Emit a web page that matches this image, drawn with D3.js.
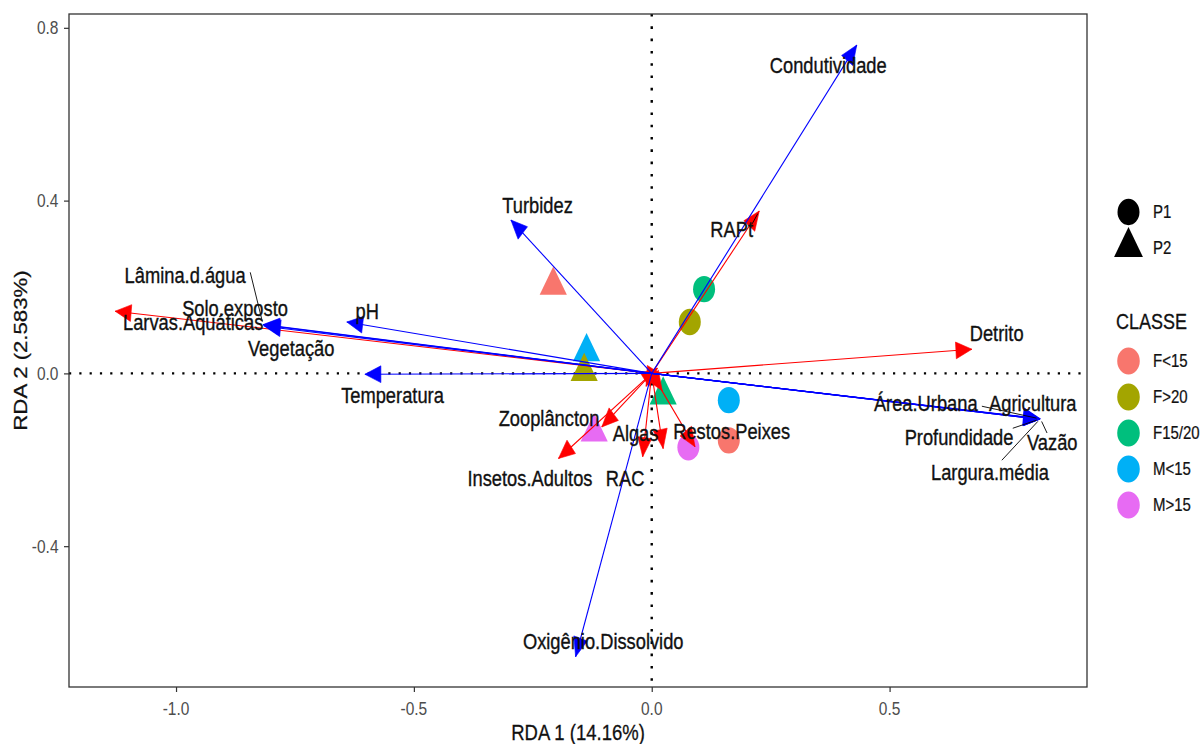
<!DOCTYPE html>
<html>
<head>
<meta charset="utf-8">
<script src="https://cdn.jsdelivr.net/npm/d3@7"></script>
<style>
  html, body { margin: 0; padding: 0; background: #fff; }
  svg { display: block; font-family: "Liberation Sans", Arial, sans-serif; }
</style>
</head>
<body>
<svg id="chart" width="1201" height="744"></svg>
<script>
// ---- data ---------------------------------------------------------------
const xLimits = [-1.225, 0.915];
const yLimits = [-0.726, 0.832];
const xTicks = [-1.0, -0.5, 0.0, 0.5];
const yTicks = [-0.4, 0.0, 0.4, 0.8];
const xTitle = "RDA 1 (14.16%)";
const yTitle = "RDA 2 (2.583%)";

// site scores: class, period, RDA1, RDA2
const siteClass  = ["F<15", "M<15", "F>20", "F15/20", "M>15", "F15/20", "F>20", "M<15", "F<15", "M>15"];
const sitePeriod = ["P2", "P2", "P2", "P2", "P2", "P1", "P1", "P1", "P1", "P1"];
const siteRDA1   = [-0.207, -0.137, -0.142, 0.024, -0.121, 0.110, 0.080, 0.162, 0.162, 0.077];
const siteRDA2   = [0.204, 0.050, 0.004, -0.050, -0.136, 0.195, 0.119, -0.062, -0.155, -0.171];

// environmental variables (blue arrows)
const envNames = ["Condutividade", "Turbidez", "pH", "Lâmina.d.água", "Solo.exposto", "Vegetação",
                  "Temperatura", "Oxigênio.Dissolvido", "Área.Urbana", "Agricultura",
                  "Profundidade", "Vazão", "Largura.média"];
const envRDA1 = [0.431, -0.296, -0.641, -0.817, -0.816, -0.814, -0.603, -0.160, 0.815, 0.816, 0.815, 0.817, 0.816];
const envRDA2 = [0.760, 0.355, 0.119, 0.113, 0.112, 0.109, -0.002, -0.656, -0.105, -0.106, -0.106, -0.105, -0.106];
const envLabelX = [0.371, -0.240, -0.598, -0.981, -0.876, -0.758, -0.545, -0.102, 0.576, 0.801, 0.646, 0.842, 0.711];
const envLabelY = [0.714, 0.390, 0.144, 0.228, 0.151, 0.059, -0.050, -0.620, -0.070, -0.070, -0.147, -0.159, -0.230];
// leader line starts for repelled labels (null = no leader)
const envLeaderX = [null, null, null, -0.844, null, null, null, null, 0.694, null, 0.759, 0.831, 0.736];
const envLeaderY = [null, null, null, 0.234, null, null, null, null, -0.076, null, -0.127, -0.138, -0.201];

// response variables (red arrows)
const spNames = ["Larvas.Aquáticas", "Detrito", "RAPt", "Zooplâncton", "Insetos.Adultos", "RAC", "Algas", "Restos.Peixes", null, null, null];
const spRDA1 = [-1.128, 0.673, 0.226, -0.105, -0.196, -0.019, 0.024, 0.091, 0.022, -0.012, 0.012];
const spRDA2 = [0.144, 0.056, 0.376, -0.124, -0.197, -0.193, -0.174, -0.170, -0.040, -0.030, 0.012];
const spLabelX = [-0.964, 0.725, 0.168, -0.216, -0.256, -0.056, -0.034, 0.168, null, null, null];
const spLabelY = [0.119, 0.093, 0.334, -0.105, -0.244, -0.244, -0.139, -0.135, null, null, null];
const spLeaderX = [null, null, 0.211, null, null, null, null, null, null, null, null];
const spLeaderY = [null, null, 0.346, null, null, null, null, null, null, null, null];

const classes = ["F<15", "F>20", "F15/20", "M<15", "M>15"];
const classColors = ["#F8766D", "#A3A500", "#00BF7D", "#00B0F6", "#E76BF3"];
const periods = ["P1", "P2"];

// ---- layout -------------------------------------------------------------
const svg = d3.select("#chart");
const panel = { left: 69, right: 1087, top: 14, bottom: 687 };
const SY = 1.2;               // vertical glyph stretch
const x = d3.scaleLinear().domain(xLimits).range([panel.left, panel.right]);
const y = d3.scaleLinear().domain(yLimits).range([panel.bottom, panel.top]);
const color = d3.scaleOrdinal().domain(classes).range(classColors);
const symbolOf = p => p === "P1" ? d3.symbolCircle : d3.symbolTriangle;
const sizeOf = p => p === "P1" ? 380 : 320;

function stretchedText(g, tx, ty, str, opts) {
  const t = g.append("text")
    .attr("transform", `translate(${tx},${ty}) scale(1,${SY})` + (opts.rotate ? ` rotate(${opts.rotate})` : ""))
    .attr("text-anchor", opts.anchor || "middle")
    .attr("dy", "0.35em")
    .attr("font-size", opts.size)
    .attr("fill", opts.fill || "#000")
    .text(str);
  if (opts.weight) t.attr("stroke", opts.fill || "#000").attr("stroke-width", opts.weight);
  return t;
}

// clip region for panel content
svg.append("defs").append("clipPath").attr("id", "panelClip")
  .append("rect").attr("x", panel.left).attr("y", panel.top)
  .attr("width", panel.right - panel.left).attr("height", panel.bottom - panel.top);

const plot = svg.append("g").attr("clip-path", "url(#panelClip)");

// reference lines through the origin
plot.append("line")
  .attr("x1", panel.left).attr("x2", panel.right)
  .attr("y1", y(0)).attr("y2", y(0))
  .attr("stroke", "#000").attr("stroke-width", 2.4)
  .attr("stroke-dasharray", "2.2 8.1");
plot.append("line")
  .attr("x1", x(0)).attr("x2", x(0))
  .attr("y1", panel.top).attr("y2", panel.bottom)
  .attr("stroke", "#000").attr("stroke-width", 2.4)
  .attr("stroke-dasharray", "2.6 9.7");

// site points
const sites = siteClass.map((c, i) => ({ c, p: sitePeriod[i], x: siteRDA1[i], y: siteRDA2[i] }));
plot.append("g").selectAll("path").data(sites).join("path")
  .attr("transform", d => `translate(${x(d.x)},${y(d.y)}) scale(1,${SY})`)
  .attr("d", d => d3.symbol().type(symbolOf(d.p)).size(sizeOf(d.p))())
  .attr("fill", d => color(d.c));

// arrows
function arrowHead(x0, y0, x1, y1, L, W) {
  let dx = x1 - x0, dy = (y1 - y0) / SY;
  const len = Math.hypot(dx, dy) || 1;
  dx /= len; dy /= len;
  const bx = -dx * L, by = -dy * L;
  const pts = [[0, 0], [bx - dy * W, by + dx * W], [bx + dy * W, by - dx * W]];
  return pts.map(([a, b]) => [x1 + a, y1 + b * SY]);
}
function drawArrows(g, xs, ys, col) {
  xs.forEach((vx, i) => {
    const x0 = x(0), y0 = y(0), x1 = x(vx), y1 = y(ys[i]);
    g.append("line").attr("x1", x0).attr("y1", y0).attr("x2", x1).attr("y2", y1)
      .attr("stroke", col).attr("stroke-width", 1.1);
    g.append("polygon")
      .attr("points", arrowHead(x0, y0, x1, y1, 16, 7).map(p => p.join(",")).join(" "))
      .attr("fill", col).attr("stroke", col).attr("stroke-width", 0.6);
  });
}
const arrowsG = plot.append("g");
drawArrows(arrowsG, spRDA1, spRDA2, "#FF0000");
drawArrows(arrowsG, envRDA1, envRDA2, "#0000FF");

// leader lines for repelled labels
function drawLeaders(g, lx, ly, tx, ty) {
  lx.forEach((v, i) => {
    if (v === null) return;
    const x0 = x(v), y0 = y(ly[i]), x1 = x(tx[i]), y1 = y(ty[i]);
    const len = Math.hypot(x1 - x0, y1 - y0);
    const k = (len - 3) / len;
    g.append("line").attr("x1", x0).attr("y1", y0)
      .attr("x2", x0 + (x1 - x0) * k).attr("y2", y0 + (y1 - y0) * k)
      .attr("stroke", "#000").attr("stroke-width", 0.9);
  });
}
const leadG = plot.append("g");
drawLeaders(leadG, envLeaderX, envLeaderY, envRDA1, envRDA2);
drawLeaders(leadG, spLeaderX, spLeaderY, spRDA1, spRDA2);

// variable labels
const labG = plot.append("g");
const labOpts = { size: "18.3px", fill: "#111", weight: 0.3 };
envNames.forEach((n, i) => stretchedText(labG, x(envLabelX[i]), y(envLabelY[i]), n, labOpts));
spNames.forEach((n, i) => { if (n) stretchedText(labG, x(spLabelX[i]), y(spLabelY[i]), n, labOpts); });

// panel border
svg.append("rect")
  .attr("x", panel.left).attr("y", panel.top)
  .attr("width", panel.right - panel.left).attr("height", panel.bottom - panel.top)
  .attr("fill", "none").attr("stroke", "#333").attr("stroke-width", 1.3);

// axes (ticks from d3, labels placed below)
const fmt = d => d.toFixed(1);
const xAxis = svg.append("g").attr("transform", `translate(0,${panel.bottom})`)
  .call(d3.axisBottom(x).tickValues(xTicks).tickSize(5).tickFormat(""));
const yAxis = svg.append("g").attr("transform", `translate(${panel.left},0)`)
  .call(d3.axisLeft(y).tickValues(yTicks).tickSize(5).tickFormat(""));
[xAxis, yAxis].forEach(a => {
  a.select(".domain").remove();
  a.selectAll(".tick line").attr("stroke", "#333").attr("stroke-width", 1.2);
});
xTicks.forEach(t => stretchedText(svg, x(t), panel.bottom + 21, fmt(t), { size: "15.5px", fill: "#4d4d4d" }));
yTicks.forEach(t => stretchedText(svg, panel.left - 10.5, y(t), fmt(t), { size: "15.5px", fill: "#4d4d4d", anchor: "end" }));

// axis titles
stretchedText(svg, (panel.left + panel.right) / 2, 732, xTitle, { size: "18.5px", fill: "#111", weight: 0.25 });
stretchedText(svg, 21, (panel.top + panel.bottom) / 2, yTitle, { size: "18.5px", fill: "#111", weight: 0.25, rotate: -90 });

// legends
const leg = svg.append("g");
const shapeRows = [212, 244];
periods.forEach((p, i) => {
  leg.append("path")
    .attr("transform", `translate(1128.5,${shapeRows[i] + (p === "P2" ? 3 : 0)}) scale(1,${SY})`)
    .attr("d", d3.symbol().type(symbolOf(p)).size(p === "P1" ? 380 : 360)())
    .attr("fill", "#000");
  stretchedText(leg, 1153, shapeRows[i] + (p === "P2" ? 4 : 0), p, { size: "15px", anchor: "start", fill: "#111", weight: 0.2 });
});
stretchedText(leg, 1116, 321.5, "CLASSE", { size: "18px", anchor: "start", fill: "#111", weight: 0.25 });
const classRow0 = 361, classStep = 36;
classes.forEach((c, i) => {
  const cy = classRow0 + i * classStep;
  leg.append("path")
    .attr("transform", `translate(1128.5,${cy}) scale(1,${SY})`)
    .attr("d", d3.symbol().type(d3.symbolCircle).size(400)())
    .attr("fill", color(c));
  stretchedText(leg, 1153, cy, c, { size: "15px", anchor: "start", fill: "#111", weight: 0.2 });
});
</script>
</body>
</html>
